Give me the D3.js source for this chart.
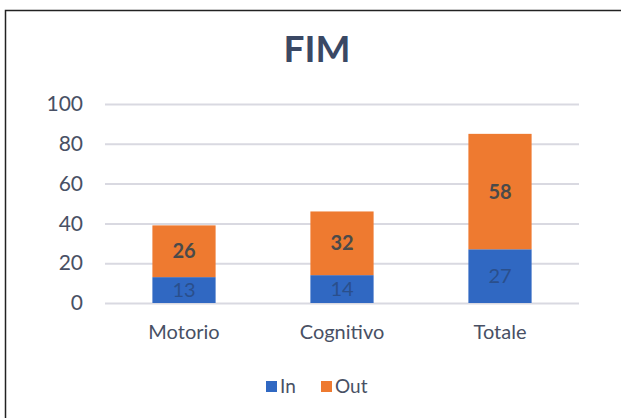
<!DOCTYPE html>
<html>
<head>
<meta charset="utf-8">
<script src="https://cdn.jsdelivr.net/npm/d3@7"></script>
<style>
  body { margin: 0; background: #fff; }
  svg { display: block; font-family: Lato, "Open Sans", sans-serif; }
</style>
</head>
<body>
<svg id="chart" width="621" height="418"></svg>
<script>
// data
const categories = ["Motorio", "Cognitivo", "Totale"];
const seriesNames = ["In", "Out"];
const inValues = [13, 14, 27];
const outValues = [26, 32, 58];
const yTicks = [0, 20, 40, 60, 80, 100];
const colors = ["#3068c2", "#ee7a30"];

const svg = d3.select("#chart");
const margin = { left: 105, right: 42, top: 104, bottom: 115 };
const width = 621, height = 418;
const textColor = "#485064";

// outer frame (only left and top edges show in the crop)
svg.append("rect")
  .attr("x", 5.5).attr("y", 10.5)
  .attr("width", 640).attr("height", 440)
  .attr("fill", "none").attr("stroke", "#222").attr("stroke-width", 1.5);

svg.append("text")
  .attr("x", 317).attr("y", 62)
  .attr("text-anchor", "middle")
  .attr("font-size", 37).attr("font-weight", "bold")
  .attr("fill", "#3a4864")
  .text("FIM");

const x = d3.scaleBand()
  .domain(categories)
  .range([margin.left, width - margin.right])
  .paddingInner(0.6).paddingOuter(0.3);

const y = d3.scaleLinear()
  .domain([0, 100])
  .range([height - margin.bottom, margin.top]);

// gridlines + tick labels
const yAxis = svg.append("g")
  .attr("transform", `translate(${margin.left},0)`)
  .call(d3.axisLeft(y).tickValues(yTicks)
    .tickSize(-(width - margin.left - margin.right)).tickPadding(22));
yAxis.select(".domain").remove();
yAxis.selectAll(".tick line").attr("stroke", "#d9d9e1").attr("stroke-width", 2);
yAxis.selectAll(".tick text")
  .attr("font-size", 21).attr("fill", textColor)
  .attr("font-family", "Lato, 'Open Sans', sans-serif");

const table = categories.map((c, i) => ({ cat: c, In: inValues[i], Out: outValues[i] }));
const stacked = d3.stack().keys(seriesNames)(table);

const layers = svg.append("g").selectAll("g")
  .data(stacked).join("g")
  .attr("fill", (d, i) => colors[i]);

layers.selectAll("rect")
  .data(d => d).join("rect")
  .attr("x", d => x(d.data.cat))
  .attr("y", d => y(d[1]))
  .attr("width", x.bandwidth())
  .attr("height", d => y(d[0]) - y(d[1]));

// value labels
layers.each(function(layer, li) {
  d3.select(this).selectAll("text")
    .data(layer).join("text")
    .attr("x", d => x(d.data.cat) + x.bandwidth() / 2)
    .attr("y", d => (y(d[0]) + y(d[1])) / 2 + 7)
    .attr("text-anchor", "middle")
    .attr("font-size", 20)
    .attr("font-weight", li === 1 ? "bold" : "normal")
    .attr("fill", li === 1 ? "#4a4a4a" : "#2a4f8c")
    .text(d => d[1] - d[0]);
});

// category axis labels
const xAxis = svg.append("g")
  .attr("transform", `translate(0,${height - margin.bottom})`)
  .call(d3.axisBottom(x).tickSize(0).tickPadding(22));
xAxis.select(".domain").remove();
xAxis.selectAll(".tick text")
  .attr("font-size", 20).attr("fill", textColor)
  .attr("font-family", "Lato, 'Open Sans', sans-serif");

// legend
const legend = svg.append("g").attr("transform", "translate(266,381)");
const items = [{ name: seriesNames[0], x: 0 }, { name: seriesNames[1], x: 55 }];
items.forEach((it, i) => {
  legend.append("rect").attr("x", it.x).attr("y", 0)
    .attr("width", 11).attr("height", 11).attr("fill", colors[i]);
  legend.append("text").attr("x", it.x + 14).attr("y", 12)
    .attr("font-size", 19).attr("fill", textColor).text(it.name);
});
</script>
</body>
</html>
